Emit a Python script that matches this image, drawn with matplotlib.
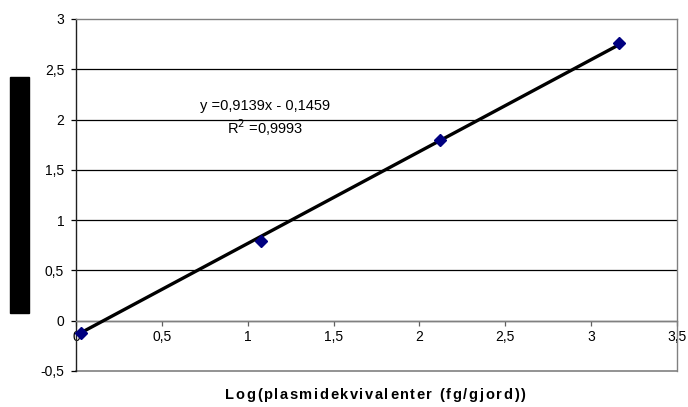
import matplotlib.pyplot as plt
from matplotlib.patches import Rectangle

plt.rcParams['font.family'] = ['Liberation Sans', 'DejaVu Sans']

# standardkurve
log_plasmid = [0.03, 1.08, 2.12, 3.16]
ct_verdi = [-0.12, 0.79, 1.80, 2.76]
slope = 0.9139
intercept = -0.1459
r2 = 0.9993

xticks = [0, 0.5, 1, 1.5, 2, 2.5, 3, 3.5]
yticks = [-0.5, 0, 0.5, 1, 1.5, 2, 2.5, 3]
xtittel = 'Log(plasmidekvivalenter (fg/gjord))'


def komma(v):
    return ('%g' % v).replace('.', ',')


fig = plt.figure(figsize=(6.88, 4.07), dpi=100)
ax = fig.add_axes([76 / 688, 1 - 371 / 407, 601 / 688, 352 / 407])

ax.set_xlim(0, 3.5)
ax.set_ylim(-0.5, 3)
ax.set_yticks(yticks)
ax.set_yticklabels([komma(v) for v in yticks])
ax.set_xticks(xticks)
ax.set_xticklabels([komma(v) for v in xticks])

# horisontale rutenettlinjer
for v in yticks[1:-1]:
    ax.axhline(v, color='black', lw=0.9, zorder=1)

for s in ['top', 'right']:
    ax.spines[s].set_color('#808080')
    ax.spines[s].set_linewidth(1.0)
ax.spines['left'].set_color('#202020')
ax.spines['left'].set_linewidth(1.0)
ax.spines['bottom'].set_position(('data', 0))
ax.spines['bottom'].set_color('#808080')
ax.spines['bottom'].set_linewidth(1.0)
ax.axhline(-0.5, color='#808080', lw=1.2, zorder=1, clip_on=False)

ax.tick_params(axis='both', labelsize=10, length=3.5, width=0.9)
ax.tick_params(axis='x', direction='out', pad=3, colors='#606060', labelcolor='black')
ax.tick_params(axis='y', direction='out', pad=5)

# trendlinje fra ligningen
xs = [log_plasmid[0], log_plasmid[-1]]
ax.plot(xs, [slope * x + intercept for x in xs], color='black', lw=2.4, zorder=3,
        solid_capstyle='butt')
ax.plot(log_plasmid, ct_verdi, linestyle='none', marker='D', markersize=6,
        color='#000080', zorder=4, clip_on=False)

ax.text(1.10, 2.13, 'y =' + komma(slope) + 'x - ' + komma(-intercept), fontsize=10.5,
        ha='center', va='center')
ax.text(1.10, 1.92, 'R$^2$ =' + komma(r2), fontsize=10.5, ha='center', va='center')

# x-aksetittel med sperret skrift
renderer = fig.canvas.get_renderer()
bokstaver = []
for c in xtittel:
    t = fig.text(0, 1 - 395 / 407, c, fontsize=10.5, fontweight='bold',
                 ha='left', va='center')
    bokstaver.append((t, t.get_window_extent(renderer).width))
sperre = 1.6
total = sum(w for _, w in bokstaver) + sperre * (len(bokstaver) - 1)
xpos = 375 - total / 2
for t, w in bokstaver:
    t.set_x(xpos / 688)
    xpos += w + sperre

# skjult y-aksetittel
fig.patches.append(Rectangle((10 / 688, 1 - 313 / 407), 19 / 688, 236 / 407,
                             transform=fig.transFigure, color='black'))

fig.savefig('out.png', dpi=100)
